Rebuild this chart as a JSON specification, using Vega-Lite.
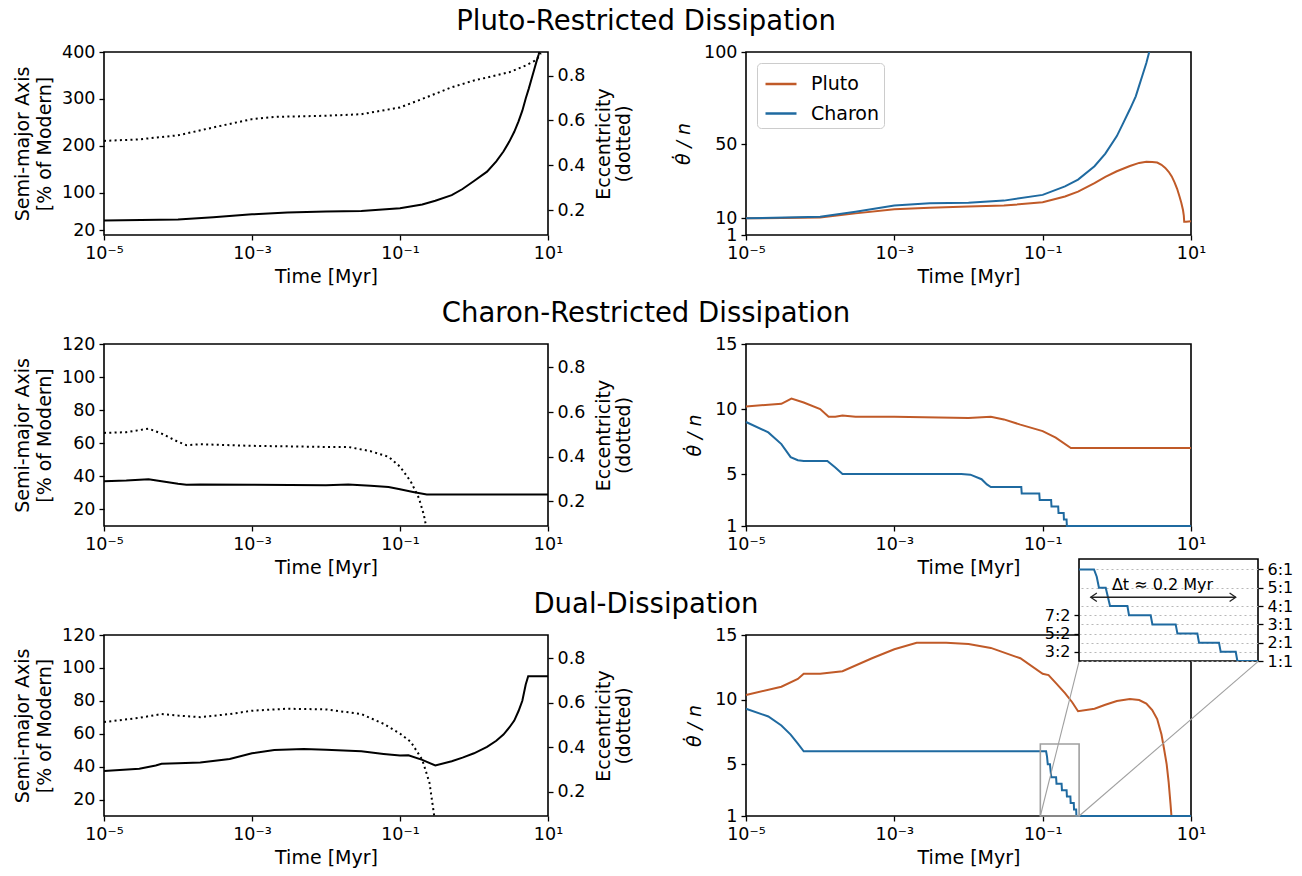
{
"$schema": "https://vega.github.io/schema/vega-lite/v6.json",
"background": "white",
"padding": {"left": 12, "top": 6, "right": 5, "bottom": 5},
"config": {
  "font": "DejaVu Sans",
  "view": {"stroke": "black", "strokeWidth": 1.6},
  "axis": {"domain": false, "grid": false, "tickColor": "black", "tickWidth": 1.3, "tickSize": 5, "labelFontSize": 17.5, "labelColor": "black", "labelPadding": 4, "labelFlush": false, "labelOverlap": false, "labelBound": false, "titleFontSize": 19, "titleFontWeight": "normal", "titleColor": "black"},
  "title": {"fontSize": 27.5, "fontWeight": "normal", "color": "black"}
},
"datasets": {
  "p1a": [{"t":0.00001,"a":41},{"t":0.0001,"a":43},{"t":0.0003,"a":48},{"t":0.001,"a":54},{"t":0.003,"a":58},{"t":0.01,"a":60},{"t":0.03,"a":61},{"t":0.1,"a":67},{"t":0.2,"a":75},{"t":0.3,"a":83},{"t":0.5,"a":95},{"t":0.7,"a":108},{"t":1,"a":125},{"t":1.5,"a":145},{"t":2,"a":167},{"t":2.5,"a":188},{"t":3,"a":209},{"t":3.5,"a":230},{"t":4,"a":252},{"t":4.5,"a":275},{"t":5,"a":301},{"t":5.5,"a":322},{"t":6,"a":343},{"t":6.5,"a":362},{"t":7,"a":380},{"t":7.5,"a":395},{"t":8.2,"a":420}],
  "p1e": [{"t":0.00001,"e":0.509},{"t":0.00003,"e":0.516},{"t":0.0001,"e":0.534},{"t":0.0003,"e":0.569},{"t":0.001,"e":0.606},{"t":0.002,"e":0.616},{"t":0.01,"e":0.621},{"t":0.03,"e":0.628},{"t":0.1,"e":0.658},{"t":0.2,"e":0.696},{"t":0.5,"e":0.748},{"t":1,"e":0.778},{"t":3,"e":0.815},{"t":5,"e":0.845},{"t":7,"e":0.87},{"t":8,"e":0.9}],
  "p1th": [
    {"t":0.00001,"body":"Pluto","v":10},{"t":0.0001,"body":"Pluto","v":10.5},{"t":0.0003,"body":"Pluto","v":12.7},{"t":0.001,"body":"Pluto","v":14.9},{"t":0.003,"body":"Pluto","v":15.8},{"t":0.01,"body":"Pluto","v":16.4},{"t":0.03,"body":"Pluto","v":16.9},{"t":0.1,"body":"Pluto","v":18.7},{"t":0.2,"body":"Pluto","v":21.8},{"t":0.3,"body":"Pluto","v":24.5},{"t":0.5,"body":"Pluto","v":29.1},{"t":0.7,"body":"Pluto","v":32.5},{"t":1,"body":"Pluto","v":35.5},{"t":1.5,"body":"Pluto","v":38.3},{"t":2,"body":"Pluto","v":40},{"t":2.5,"body":"Pluto","v":40.6},{"t":3,"body":"Pluto","v":40.5},{"t":3.5,"body":"Pluto","v":40.2},{"t":4,"body":"Pluto","v":39},{"t":4.5,"body":"Pluto","v":37.3},{"t":5,"body":"Pluto","v":35.2},{"t":5.5,"body":"Pluto","v":32.7},{"t":6,"body":"Pluto","v":29.5},{"t":6.5,"body":"Pluto","v":26},{"t":7,"body":"Pluto","v":21.8},{"t":7.4,"body":"Pluto","v":18.5},{"t":7.8,"body":"Pluto","v":14.5},{"t":8.0,"body":"Pluto","v":11.5},{"t":8.1,"body":"Pluto","v":8.2},{"t":8.6,"body":"Pluto","v":8.2},{"t":10,"body":"Pluto","v":8.5},
    {"t":0.00001,"body":"Charon","v":10},{"t":0.0001,"body":"Charon","v":10.9},{"t":0.0003,"body":"Charon","v":13.6},{"t":0.001,"body":"Charon","v":16.9},{"t":0.003,"body":"Charon","v":18.2},{"t":0.01,"body":"Charon","v":18.5},{"t":0.03,"body":"Charon","v":19.6},{"t":0.1,"body":"Charon","v":22.7},{"t":0.2,"body":"Charon","v":27.3},{"t":0.3,"body":"Charon","v":31},{"t":0.5,"body":"Charon","v":38.2},{"t":0.7,"body":"Charon","v":45},{"t":1,"body":"Charon","v":54.5},{"t":1.2,"body":"Charon","v":61},{"t":1.5,"body":"Charon","v":69},{"t":1.8,"body":"Charon","v":76},{"t":2,"body":"Charon","v":81.8},{"t":2.2,"body":"Charon","v":87},{"t":2.5,"body":"Charon","v":94},{"t":2.9,"body":"Charon","v":104}
  ],
  "p2a": [{"t":0.00001,"a":37.1},{"t":0.00002,"a":37.5},{"t":0.00004,"a":38.3},{"t":0.00006,"a":37.1},{"t":0.0001,"a":35.5},{"t":0.00013,"a":34.9},{"t":0.0002,"a":35.1},{"t":0.001,"a":34.9},{"t":0.01,"a":34.7},{"t":0.02,"a":35.1},{"t":0.04,"a":34.3},{"t":0.07,"a":33.5},{"t":0.1,"a":32.2},{"t":0.15,"a":30.6},{"t":0.23,"a":29},{"t":10,"a":29}],
  "p2e": [{"t":0.00001,"e":0.507},{"t":0.00002,"e":0.51},{"t":0.00004,"e":0.526},{"t":0.00006,"e":0.504},{"t":0.0001,"e":0.467},{"t":0.00013,"e":0.452},{"t":0.0002,"e":0.456},{"t":0.001,"e":0.449},{"t":0.01,"e":0.444},{"t":0.02,"e":0.444},{"t":0.04,"e":0.425},{"t":0.07,"e":0.4},{"t":0.1,"e":0.356},{"t":0.14,"e":0.289},{"t":0.18,"e":0.215},{"t":0.21,"e":0.14},{"t":0.225,"e":0.09}],
  "p2th": [
    {"t":0.00001,"body":"Pluto","v":10.2},{"t":0.00003,"body":"Pluto","v":10.4},{"t":0.000041,"body":"Pluto","v":10.8},{"t":0.00006,"body":"Pluto","v":10.5},{"t":0.0001,"body":"Pluto","v":10.0},{"t":0.00013,"body":"Pluto","v":9.4},{"t":0.00016,"body":"Pluto","v":9.4},{"t":0.0002,"body":"Pluto","v":9.5},{"t":0.0003,"body":"Pluto","v":9.4},{"t":0.001,"body":"Pluto","v":9.4},{"t":0.01,"body":"Pluto","v":9.3},{"t":0.02,"body":"Pluto","v":9.4},{"t":0.03,"body":"Pluto","v":9.2},{"t":0.05,"body":"Pluto","v":8.8},{"t":0.1,"body":"Pluto","v":8.3},{"t":0.15,"body":"Pluto","v":7.8},{"t":0.24,"body":"Pluto","v":7.0},{"t":10,"body":"Pluto","v":7.0},
    {"t":0.00001,"body":"Charon","v":9.0},{"t":0.00002,"body":"Charon","v":8.2},{"t":0.00003,"body":"Charon","v":7.3},{"t":0.00004,"body":"Charon","v":6.3},{"t":0.00005,"body":"Charon","v":6.06},{"t":0.00006,"body":"Charon","v":6.0},{"t":0.000125,"body":"Charon","v":6.0},{"t":0.00016,"body":"Charon","v":5.5},{"t":0.0002,"body":"Charon","v":5.0},{"t":0.008,"body":"Charon","v":5.0},{"t":0.0106,"body":"Charon","v":4.95},{"t":0.015,"body":"Charon","v":4.6},{"t":0.0177,"body":"Charon","v":4.2},{"t":0.02,"body":"Charon","v":4.0},{"t":0.0515,"body":"Charon","v":4.0},{"t":0.0522,"body":"Charon","v":3.5},{"t":0.09,"body":"Charon","v":3.5},{"t":0.0912,"body":"Charon","v":3.0},{"t":0.13,"body":"Charon","v":3.0},{"t":0.1315,"body":"Charon","v":2.5},{"t":0.162,"body":"Charon","v":2.5},{"t":0.1635,"body":"Charon","v":2.0},{"t":0.192,"body":"Charon","v":2.0},{"t":0.1935,"body":"Charon","v":1.5},{"t":0.21,"body":"Charon","v":1.5},{"t":0.212,"body":"Charon","v":1.0},{"t":10,"body":"Charon","v":1.0}
  ],
  "p3a": [{"t":0.00001,"a":37.3},{"t":0.00003,"a":38.7},{"t":0.00005,"a":40.7},{"t":0.00006,"a":41.7},{"t":0.0001,"a":42.1},{"t":0.0002,"a":42.5},{"t":0.0005,"a":44.7},{"t":0.001,"a":48.1},{"t":0.002,"a":50.1},{"t":0.005,"a":50.7},{"t":0.01,"a":50.3},{"t":0.03,"a":49.3},{"t":0.06,"a":47.7},{"t":0.1,"a":46.7},{"t":0.13,"a":46.9},{"t":0.2,"a":44.1},{"t":0.3,"a":40.7},{"t":0.5,"a":43.3},{"t":0.7,"a":45.5},{"t":1,"a":48.1},{"t":1.5,"a":52},{"t":2,"a":55.7},{"t":2.5,"a":59.5},{"t":3,"a":63.8},{"t":3.5,"a":68},{"t":4,"a":73.8},{"t":4.5,"a":80},{"t":5,"a":89.9},{"t":5.4,"a":94.9},{"t":10,"a":94.9}],
  "p3e": [{"t":0.00001,"e":0.513},{"t":0.00003,"e":0.532},{"t":0.00006,"e":0.549},{"t":0.0001,"e":0.542},{"t":0.0002,"e":0.535},{"t":0.0005,"e":0.549},{"t":0.001,"e":0.564},{"t":0.003,"e":0.573},{"t":0.01,"e":0.57},{"t":0.03,"e":0.549},{"t":0.06,"e":0.505},{"t":0.1,"e":0.461},{"t":0.14,"e":0.424},{"t":0.2,"e":0.343},{"t":0.25,"e":0.24},{"t":0.29,"e":0.09}],
  "p3th": [
    {"t":0.00001,"body":"Pluto","v":10.36},{"t":0.00003,"body":"Pluto","v":11.0},{"t":0.00005,"body":"Pluto","v":11.6},{"t":0.00006,"body":"Pluto","v":12.0},{"t":0.0001,"body":"Pluto","v":12.0},{"t":0.0002,"body":"Pluto","v":12.2},{"t":0.0005,"body":"Pluto","v":13.2},{"t":0.001,"body":"Pluto","v":13.9},{"t":0.002,"body":"Pluto","v":14.4},{"t":0.005,"body":"Pluto","v":14.4},{"t":0.01,"body":"Pluto","v":14.3},{"t":0.02,"body":"Pluto","v":14.0},{"t":0.05,"body":"Pluto","v":13.2},{"t":0.1,"body":"Pluto","v":12.0},{"t":0.12,"body":"Pluto","v":11.9},{"t":0.15,"body":"Pluto","v":11.3},{"t":0.2,"body":"Pluto","v":10.5},{"t":0.25,"body":"Pluto","v":9.8},{"t":0.3,"body":"Pluto","v":9.1},{"t":0.5,"body":"Pluto","v":9.3},{"t":0.7,"body":"Pluto","v":9.6},{"t":1,"body":"Pluto","v":9.9},{"t":1.5,"body":"Pluto","v":10.05},{"t":2,"body":"Pluto","v":9.97},{"t":2.5,"body":"Pluto","v":9.7},{"t":3,"body":"Pluto","v":9.2},{"t":3.5,"body":"Pluto","v":8.5},{"t":4,"body":"Pluto","v":7.3},{"t":4.3,"body":"Pluto","v":6.3},{"t":4.7,"body":"Pluto","v":5.0},{"t":5.0,"body":"Pluto","v":3.6},{"t":5.3,"body":"Pluto","v":1.9},{"t":5.45,"body":"Pluto","v":1.0},
    {"t":0.00001,"body":"Charon","v":9.3},{"t":0.00002,"body":"Charon","v":8.7},{"t":0.00003,"body":"Charon","v":8.0},{"t":0.00004,"body":"Charon","v":7.3},{"t":0.00005,"body":"Charon","v":6.6},{"t":0.00006,"body":"Charon","v":6.0},{"t":0.1112,"body":"Charon","v":6.0},{"t":0.1145,"body":"Charon","v":5.6},{"t":0.1172,"body":"Charon","v":5.0},{"t":0.1254,"body":"Charon","v":5.0},{"t":0.1306,"body":"Charon","v":4.0},{"t":0.1517,"body":"Charon","v":4.0},{"t":0.1536,"body":"Charon","v":3.5},{"t":0.1799,"body":"Charon","v":3.5},{"t":0.182,"body":"Charon","v":3.0},{"t":0.2102,"body":"Charon","v":3.0},{"t":0.2123,"body":"Charon","v":2.5},{"t":0.2365,"body":"Charon","v":2.5},{"t":0.2385,"body":"Charon","v":2.0},{"t":0.2627,"body":"Charon","v":2.0},{"t":0.2648,"body":"Charon","v":1.5},{"t":0.283,"body":"Charon","v":1.5},{"t":0.285,"body":"Charon","v":1.0},{"t":10,"body":"Charon","v":1.0}
  ],
  "zoombox": [{"t":0.093,"t2":0.31,"v":1,"v2":6.57}],
  "connectors": [{"t":0.093,"t2":0.31,"v":1,"v2":12.96},{"t":0.31,"t2":80.7,"v":1,"v2":12.96}],
  "arrow": [{"t":0.1072,"t2":0.283,"v":4.48}],
  "heads": [{"t":0.1072,"v":4.48,"dir":"L"},{"t":0.283,"v":4.48,"dir":"R"}],
  "note": [{"t":0.1942,"v":5.17,"label":"Δt ≈ 0.2 Myr"}]
},
"columns": 2,
"spacing": {"row": 109, "column": 198},
"bounds": "flush",
"resolve": {"scale": {"color": "independent"}, "legend": {"color": "independent"}},
"concat": [
  {
    "width": 444, "height": 183,
    "title": {"text": "Pluto-Restricted Dissipation", "anchor": "middle", "frame": "group", "dx": 320, "offset": -14, "baseline": "alphabetic"},
    "layer": [
      {"data": {"name": "p1a"}, "mark": {"type": "line", "color": "black", "strokeWidth": 2, "clip": true},
       "encoding": {
        "x": {"field": "t", "type": "quantitative", "title": "Time [Myr]", "scale": {"type": "log", "domain": [0.00001, 10]}, "axis": {"values": [0.00001, 0.001, 0.1, 10], "labelExpr": "datum.value < 5e-5 ? '10⁻⁵' : datum.value < 5e-3 ? '10⁻³' : datum.value < 0.5 ? '10⁻¹' : '10¹'", "titlePadding": 6}},
        "y": {"field": "a", "type": "quantitative", "scale": {"domain": [10, 400]}, "axis": {"values": [20, 100, 200, 300, 400], "title": ["Semi-major Axis", "[% of Modern]"], "titlePadding": 7, "titleLineHeight": 22}}
       }},
      {"data": {"name": "p1e"}, "mark": {"type": "line", "color": "black", "strokeWidth": 2, "strokeDash": [2, 3.3], "clip": true},
       "encoding": {
        "x": {"field": "t", "type": "quantitative", "title": "Time [Myr]", "scale": {"type": "log", "domain": [0.00001, 10]}},
        "y": {"field": "e", "type": "quantitative", "scale": {"domain": [0.09, 0.905]}, "axis": {"orient": "right", "values": [0.2, 0.4, 0.6, 0.8], "format": ".1f", "title": ["Eccentricity", "(dotted)"], "titleAngle": 270, "titleBaseline": "top", "titlePadding": -10, "titleLineHeight": 20}}
       }}
    ],
    "resolve": {"scale": {"y": "independent"}}
  },
  {
    "width": 445, "height": 183,
    "data": {"name": "p1th"},
    "mark": {"type": "line", "strokeWidth": 2, "clip": true},
    "encoding": {
      "x": {"field": "t", "type": "quantitative", "title": "Time [Myr]", "scale": {"type": "log", "domain": [0.00001, 10]}, "axis": {"values": [0.00001, 0.001, 0.1, 10], "labelExpr": "datum.value < 5e-5 ? '10⁻⁵' : datum.value < 5e-3 ? '10⁻³' : datum.value < 0.5 ? '10⁻¹' : '10¹'", "titlePadding": 6}},
      "y": {"field": "v", "type": "quantitative", "scale": {"domain": [1, 100]}, "axis": {"values": [1, 10, 50, 100], "title": "θ̇ / n", "titleFontStyle": "italic", "titlePadding": 10}},
      "color": {"field": "body", "type": "nominal", "scale": {"domain": ["Pluto", "Charon"], "range": ["#c05a28", "#1f6aa0"]},
        "legend": {"title": null, "orient": "top-left", "offset": 11, "symbolType": "stroke", "symbolSize": 961, "symbolStrokeWidth": 2.5, "symbolOffset": 3, "labelFontSize": 19, "labelColor": "black", "labelOffset": 13, "padding": 4, "rowPadding": 2.5, "strokeColor": "#cccccc", "fillColor": "white", "cornerRadius": 4}}
    }
  },
  {
    "width": 444, "height": 182,
    "title": {"text": "Charon-Restricted Dissipation", "anchor": "middle", "frame": "group", "dx": 320, "offset": -14, "baseline": "alphabetic"},
    "layer": [
      {"data": {"name": "p2a"}, "mark": {"type": "line", "color": "black", "strokeWidth": 2, "clip": true},
       "encoding": {
        "x": {"field": "t", "type": "quantitative", "title": "Time [Myr]", "scale": {"type": "log", "domain": [0.00001, 10]}, "axis": {"values": [0.00001, 0.001, 0.1, 10], "labelExpr": "datum.value < 5e-5 ? '10⁻⁵' : datum.value < 5e-3 ? '10⁻³' : datum.value < 0.5 ? '10⁻¹' : '10¹'", "titlePadding": 6}},
        "y": {"field": "a", "type": "quantitative", "scale": {"domain": [10, 120]}, "axis": {"values": [20, 40, 60, 80, 100, 120], "title": ["Semi-major Axis", "[% of Modern]"], "titlePadding": 7, "titleLineHeight": 22}}
       }},
      {"data": {"name": "p2e"}, "mark": {"type": "line", "color": "black", "strokeWidth": 2, "strokeDash": [2, 3.3], "clip": true},
       "encoding": {
        "x": {"field": "t", "type": "quantitative", "title": "Time [Myr]", "scale": {"type": "log", "domain": [0.00001, 10]}},
        "y": {"field": "e", "type": "quantitative", "scale": {"domain": [0.09, 0.905]}, "axis": {"orient": "right", "values": [0.2, 0.4, 0.6, 0.8], "format": ".1f", "title": ["Eccentricity", "(dotted)"], "titleAngle": 270, "titleBaseline": "top", "titlePadding": -10, "titleLineHeight": 20}}
       }}
    ],
    "resolve": {"scale": {"y": "independent"}}
  },
  {
    "width": 445, "height": 182,
    "data": {"name": "p2th"},
    "mark": {"type": "line", "strokeWidth": 2, "clip": false},
    "encoding": {
      "x": {"field": "t", "type": "quantitative", "title": "Time [Myr]", "scale": {"type": "log", "domain": [0.00001, 10]}, "axis": {"values": [0.00001, 0.001, 0.1, 10], "labelExpr": "datum.value < 5e-5 ? '10⁻⁵' : datum.value < 5e-3 ? '10⁻³' : datum.value < 0.5 ? '10⁻¹' : '10¹'", "titlePadding": 6}},
      "y": {"field": "v", "type": "quantitative", "scale": {"domain": [1, 15]}, "axis": {"values": [1, 5, 10, 15], "title": "θ̇ / n", "titleFontStyle": "italic", "titlePadding": 10}},
      "color": {"field": "body", "type": "nominal", "scale": {"domain": ["Pluto", "Charon"], "range": ["#c05a28", "#1f6aa0"]}, "legend": null}
    }
  },
  {
    "width": 444, "height": 181,
    "title": {"text": "Dual-Dissipation", "anchor": "middle", "frame": "group", "dx": 320, "offset": -14, "baseline": "alphabetic"},
    "layer": [
      {"data": {"name": "p3a"}, "mark": {"type": "line", "color": "black", "strokeWidth": 2, "clip": true},
       "encoding": {
        "x": {"field": "t", "type": "quantitative", "title": "Time [Myr]", "scale": {"type": "log", "domain": [0.00001, 10]}, "axis": {"values": [0.00001, 0.001, 0.1, 10], "labelExpr": "datum.value < 5e-5 ? '10⁻⁵' : datum.value < 5e-3 ? '10⁻³' : datum.value < 0.5 ? '10⁻¹' : '10¹'", "titlePadding": 6}},
        "y": {"field": "a", "type": "quantitative", "scale": {"domain": [10, 120]}, "axis": {"values": [20, 40, 60, 80, 100, 120], "title": ["Semi-major Axis", "[% of Modern]"], "titlePadding": 7, "titleLineHeight": 22}}
       }},
      {"data": {"name": "p3e"}, "mark": {"type": "line", "color": "black", "strokeWidth": 2, "strokeDash": [2, 3.3], "clip": true},
       "encoding": {
        "x": {"field": "t", "type": "quantitative", "title": "Time [Myr]", "scale": {"type": "log", "domain": [0.00001, 10]}},
        "y": {"field": "e", "type": "quantitative", "scale": {"domain": [0.09, 0.905]}, "axis": {"orient": "right", "values": [0.2, 0.4, 0.6, 0.8], "format": ".1f", "title": ["Eccentricity", "(dotted)"], "titleAngle": 270, "titleBaseline": "top", "titlePadding": -10, "titleLineHeight": 20}}
       }}
    ],
    "resolve": {"scale": {"y": "independent"}}
  },
  {
    "vconcat": [
      {
        "width": 445, "height": 181,
        "layer": [
          {"data": {"name": "p3th"}, "mark": {"type": "line", "strokeWidth": 2, "clip": false},
           "encoding": {
            "x": {"field": "t", "type": "quantitative", "title": "Time [Myr]", "scale": {"type": "log", "domain": [0.00001, 10]}, "axis": {"values": [0.00001, 0.001, 0.1, 10], "labelExpr": "datum.value < 5e-5 ? '10⁻⁵' : datum.value < 5e-3 ? '10⁻³' : datum.value < 0.5 ? '10⁻¹' : '10¹'", "titlePadding": 6}},
            "y": {"field": "v", "type": "quantitative", "title": "θ̇ / n", "scale": {"domain": [1, 15]}, "axis": {"values": [1, 5, 10, 15], "title": "θ̇ / n", "titleFontStyle": "italic", "titlePadding": 10}},
            "color": {"field": "body", "type": "nominal", "scale": {"domain": ["Pluto", "Charon"], "range": ["#c05a28", "#1f6aa0"]}, "legend": null}
           }},
          {"data": {"name": "connectors"}, "mark": {"type": "rule", "color": "#a0a0a0", "strokeWidth": 1.1, "clip": false},
           "encoding": {
            "x": {"field": "t", "type": "quantitative", "title": "Time [Myr]", "scale": {"type": "log", "domain": [0.00001, 10]}},
            "x2": {"field": "t2"},
            "y": {"field": "v", "type": "quantitative", "title": "θ̇ / n", "scale": {"domain": [1, 15]}},
            "y2": {"field": "v2"}
           }},
          {"data": {"name": "zoombox"}, "mark": {"type": "rect", "filled": false, "stroke": "#a0a0a0", "strokeWidth": 1.6, "clip": false},
           "encoding": {
            "x": {"field": "t", "type": "quantitative", "title": "Time [Myr]", "scale": {"type": "log", "domain": [0.00001, 10]}},
            "x2": {"field": "t2"},
            "y": {"field": "v", "type": "quantitative", "title": "θ̇ / n", "scale": {"domain": [1, 15]}},
            "y2": {"field": "v2"}
           }}
        ]
      },
      {
        "hconcat": [
          {"width": 135, "height": 10, "view": {"stroke": null}, "data": {"values": [{"k": 0}]}, "mark": {"type": "point", "opacity": 0}, "encoding": {}},
          {
            "width": 179, "height": 102,
            "view": {"fill": "white", "stroke": "black", "strokeWidth": 1.6},
            "layer": [
              {"data": {"name": "p3th"}, "transform": [{"filter": "datum.body == 'Charon'"}],
               "mark": {"type": "line", "color": "#1f6aa0", "strokeWidth": 2, "clip": true},
               "encoding": {
                "x": {"field": "t", "type": "quantitative", "scale": {"domain": [0.093, 0.31]}, "axis": null},
                "y": {"field": "v", "type": "quantitative", "scale": {"domain": [1, 6.57]}, "axis": {"orient": "left", "values": [1.5, 2.5, 3.5], "labelExpr": "datum.value == 1.5 ? '3:2' : datum.value == 2.5 ? '5:2' : '7:2'", "title": null, "labelFontSize": 16, "grid": true, "gridDash": [2, 3], "gridColor": "#b8b8b8", "gridWidth": 1}}
               }},
              {"data": {"name": "arrow"}, "mark": {"type": "rule", "color": "#222222", "strokeWidth": 1.3},
               "encoding": {
                "x": {"field": "t", "type": "quantitative", "scale": {"domain": [0.093, 0.31]}, "axis": null},
                "x2": {"field": "t2"},
                "y": {"field": "v", "type": "quantitative", "scale": {"domain": [1, 6.57]}, "axis": {"orient": "right", "values": [1, 2, 3, 4, 5, 6], "labelExpr": "datum.value + ':1'", "title": null, "labelFontSize": 16, "grid": true, "gridDash": [2, 3], "gridColor": "#b8b8b8", "gridWidth": 1}}
               }},
              {"data": {"name": "heads"}, "mark": {"type": "point", "filled": false, "stroke": "#222222", "strokeWidth": 1.3, "size": 150, "opacity": 1},
               "encoding": {
                "x": {"field": "t", "type": "quantitative", "scale": {"domain": [0.093, 0.31]}, "axis": null},
                "y": {"field": "v", "type": "quantitative", "scale": {"domain": [1, 6.57]}, "axis": null},
                "shape": {"field": "dir", "type": "nominal", "scale": {"domain": ["L", "R"], "range": ["M1,-0.7L0,0L1,0.7", "M-1,-0.7L0,0L-1,0.7"]}, "legend": null}
               }},
              {"data": {"name": "note"}, "mark": {"type": "text", "fontSize": 16, "color": "black", "align": "center", "baseline": "middle"},
               "encoding": {
                "x": {"field": "t", "type": "quantitative", "scale": {"domain": [0.093, 0.31]}, "axis": null},
                "y": {"field": "v", "type": "quantitative", "scale": {"domain": [1, 6.57]}, "axis": null},
                "text": {"field": "label"}
               }}
            ],
            "resolve": {"axis": {"y": "independent"}}
          }
        ],
        "spacing": 198,
        "bounds": "flush"
      }
    ],
    "spacing": -257,
    "align": "none",
    "bounds": "flush"
  }
]
}
